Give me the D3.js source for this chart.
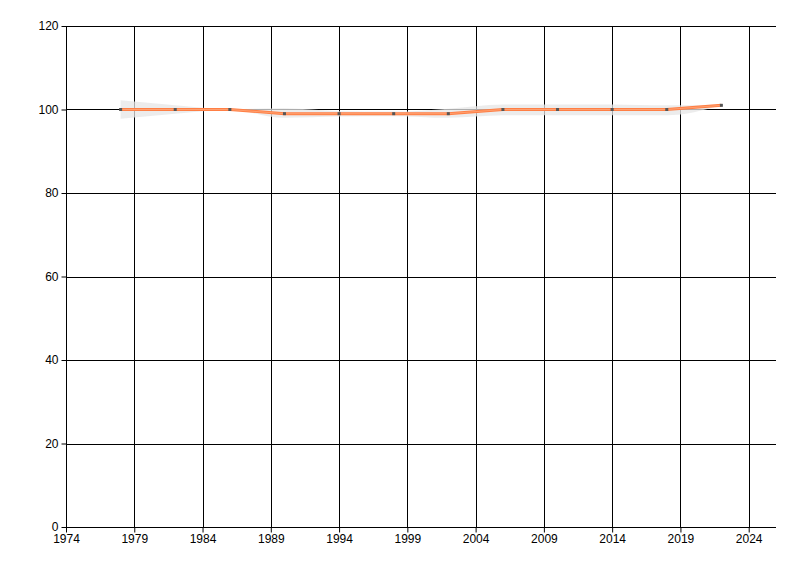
<!DOCTYPE html>
<html>
<head>
<meta charset="utf-8">
<script src="https://cdn.jsdelivr.net/npm/d3@7"></script>
<style>
body { margin: 0; background: #fff; }
text { font-family: "Liberation Sans", Arial, sans-serif; font-size: 12px; fill: #000; }
</style>
</head>
<body>
<script>
var years  = [1978, 1982, 1986, 1990, 1994, 1998, 2002, 2006, 2010, 2014, 2018, 2022];
var values = [100, 100, 100, 99, 99, 99, 99, 100, 100, 100, 100, 101];
var bandHi = [102.2, 101.0, 100.1, 100.3, 99.6, 99.5, 100.2, 101.2, 101.2, 101.2, 101.0, 101];
var bandLo = [97.8, 99.0, 99.9, 98.0, 98.3, 98.4, 98.0, 98.6, 98.6, 98.6, 98.6, 101];
var xTicks = [1974, 1979, 1984, 1989, 1994, 1999, 2004, 2009, 2014, 2019, 2024];
var yTicks = [0, 20, 40, 60, 80, 100, 120];

var width = 800,
    height = 576,
    padL = 66, padR = 776, padT = 26, padB = 527;

var x = d3.scaleLinear().domain([1974, 2026]).range([padL, padR]);
var y = d3.scaleLinear().domain([0, 120]).range([padB, padT]);

var svg = d3.select("body").append("svg")
    .attr("width", width)
    .attr("height", height);

var rows = years.map(function(d, i){ return {yr: d, v: values[i], hi: bandHi[i], lo: bandLo[i]}; });

// grid
svg.append("g").selectAll("line")
    .data(xTicks.slice(1)).enter()
    .append("line")
    .attr("x1", function(d){ return Math.round(x(d)) + 0.5; })
    .attr("x2", function(d){ return Math.round(x(d)) + 0.5; })
    .attr("y1", padT).attr("y2", padB)
    .attr("stroke", "#000");

svg.append("g").selectAll("line")
    .data(yTicks.slice(1)).enter()
    .append("line")
    .attr("y1", function(d){ return Math.round(y(d)) + 0.5; })
    .attr("y2", function(d){ return Math.round(y(d)) + 0.5; })
    .attr("x1", padL).attr("x2", padR)
    .attr("stroke", "#000");

// axes
var xAxis = d3.axisBottom(x).tickValues(xTicks).tickFormat(d3.format("d")).tickSize(5).tickPadding(2);
var yAxis = d3.axisLeft(y).tickValues(yTicks).tickSize(5).tickPadding(3);

var gx = svg.append("g").attr("transform", "translate(0," + (padB + 0.5) + ")").call(xAxis);
var gy = svg.append("g").attr("transform", "translate(" + (padL + 0.5) + ",0)").call(yAxis);
[gx, gy].forEach(function(g){
    g.select(".domain").attr("stroke", "#000");
    g.selectAll(".tick line").attr("stroke", "#000");
    g.selectAll("text").attr("font-size", 12).attr("font-family", "Liberation Sans, Arial, sans-serif").attr("fill", "#000");
});
gx.select(".domain").attr("d", "M" + padL + ",0H" + padR);
gy.select(".domain").attr("d", "M0," + padT + "V" + padB);

// band
var area = d3.area()
    .x(function(d){ return x(d.yr); })
    .y0(function(d){ return y(d.lo); })
    .y1(function(d){ return y(d.hi); })
    .curve(d3.curveMonotoneX);

svg.append("path")
    .datum(rows)
    .attr("d", area)
    .attr("fill", "#e6e6e6")
    .attr("fill-opacity", 0.75);

// line
var line = d3.line()
    .x(function(d){ return x(d.yr); })
    .y(function(d){ return y(d.v); });

svg.append("path")
    .datum(rows)
    .attr("d", line)
    .attr("fill", "none")
    .attr("stroke", "#ff7f45")
    .attr("stroke-width", 3);

svg.append("path")
    .datum(rows)
    .attr("d", line)
    .attr("fill", "none")
    .attr("stroke", "#ffa070")
    .attr("stroke-width", 1);

// markers
svg.append("g").selectAll("rect")
    .data(rows).enter()
    .append("rect")
    .attr("x", function(d){ return x(d.yr) - 1.5; })
    .attr("y", function(d){ return y(d.v) - 1.5; })
    .attr("width", 3).attr("height", 3)
    .attr("fill", "#555");
</script>
</body>
</html>
